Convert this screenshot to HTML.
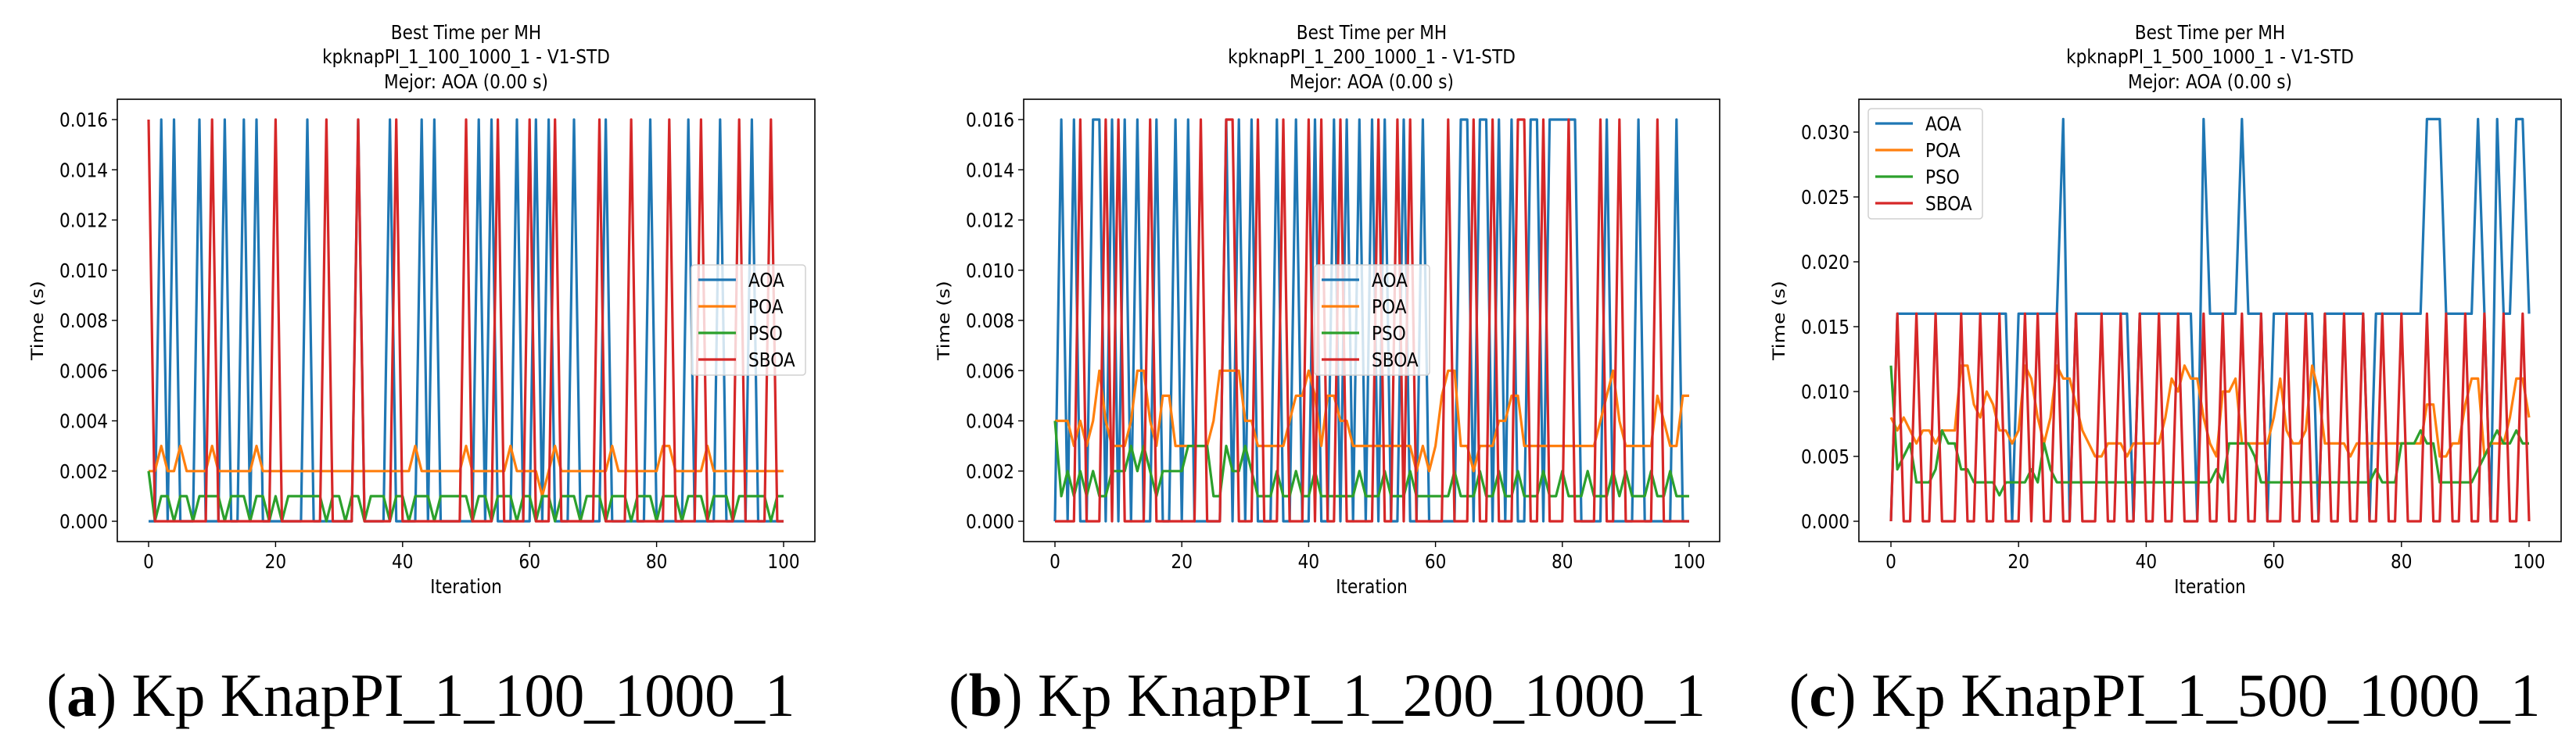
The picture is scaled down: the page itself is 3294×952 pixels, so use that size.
<!DOCTYPE html>
<html><head><meta charset="utf-8"><style>
html,body{margin:0;padding:0;background:#fff;}
svg{display:block;}
text{font-family:"DejaVu Sans","Liberation Sans",sans-serif;fill:#000;}
.cap{font-family:"Liberation Serif",serif;}
</style></head><body>
<svg id="fig" width="3294" height="952" viewBox="0 0 3294 952" xmlns="http://www.w3.org/2000/svg"></svg>
<script>
// values in milliseconds
const iterations = Array.from({length:101},(_,i)=>i);
const seriesNames = ["AOA","POA","PSO","SBOA"];
const yTicksA = [0,0.002,0.004,0.006,0.008,0.010,0.012,0.014,0.016];
const yTicksC = [0,0.005,0.010,0.015,0.020,0.025,0.030];
const xTicks = [0,20,40,60,80,100];

const aAOA = [0,0,16,0,16,0,0,0,16,0, 0,0,16,0,0,16,0,16,0,0, 0,0,0,0,0,16,0,0,0,0, 0,0,0,16,0,0,0,0,16,0, 0,0,0,16,0,16,0,0,0,0, 0,0,16,0,16,0,0,0,16,0, 0,16,0,16,0,0,0,16,0,0, 0,0,16,0,0,0,0,0,0,16, 0,0,0,0,0,16,0,0,0,0, 16,0,0,0,0,16,0,0,0,0, 0];
const aPOA = [2,2,3,2,2,3,2,2,2,2, 3,2,2,2,2,2,2,3,2,2, 2,2,2,2,2,2,2,2,2,2, 2,2,2,2,2,2,2,2,2,2, 2,2,3,2,2,2,2,2,2,2, 3,2,2,2,2,2,2,3,2,2, 2,2,1,2,3,2,2,2,2,2, 2,2,2,3,2,2,2,2,2,2, 2,3,3,2,2,2,2,2,3,2, 2,2,2,2,2,2,2,2,2,2, 2];
const aPSO = [2,0,1,1,0,1,1,0,1,1, 1,1,0,1,1,1,0,1,1,0, 1,0,1,1,1,1,1,1,0,1, 1,0,1,1,0,1,1,1,0,1, 1,0,1,1,1,0,1,1,1,1, 1,0,1,1,0,1,1,1,0,1, 1,0,1,1,0,1,1,1,0,1, 1,1,0,1,1,1,0,1,1,1, 0,1,1,1,0,1,1,1,0,1, 1,1,0,1,1,1,1,1,0,1, 1];
const aSBOA = [16,0,0,0,0,0,0,0,0,0, 16,0,0,0,0,0,0,0,0,0, 16,0,0,0,0,0,0,0,16,0, 0,0,0,16,0,0,0,0,0,16, 0,0,0,0,0,0,0,0,0,0, 16,0,0,0,0,16,0,0,0,0, 16,0,0,0,16,0,0,0,0,0, 0,16,0,0,0,0,16,0,0,0, 0,0,16,0,0,0,0,16,0,0, 0,0,0,16,0,0,0,0,16,0, 0];

const bAOA = [0,16,0,16,0,0,16,16,0,16, 0,16,0,16,0,0,16,0,0,16, 0,16,0,0,0,0,0,16,0,16, 0,16,0,0,0,16,0,0,16,0, 0,16,0,0,16,0,16,0,16,0, 16,0,16,0,0,16,0,0,16,0, 0,0,0,0,16,16,0,16,16,0, 16,0,16,0,0,16,16,0,16,16, 16,16,16,0,0,0,0,16,0,0, 0,0,16,0,0,0,0,0,16,0, 0];
const bPOA = [4,4,4,3,4,3,4,6,4,3, 3,3,4,6,6,4,3,5,5,3, 3,3,3,3,3,4,6,6,6,6, 4,4,3,3,3,3,3,4,5,5, 6,5,3,5,5,4,4,3,3,3, 3,3,3,3,3,3,3,2,3,2, 3,5,6,6,3,3,2,3,3,3, 4,4,5,5,3,3,3,3,3,3, 3,3,3,3,3,3,4,5,6,4, 3,3,3,3,3,5,4,3,3,5, 5];
const bPSO = [4,1,2,1,2,1,2,1,1,2, 2,2,3,2,3,2,1,2,2,2, 2,3,3,3,3,1,1,3,2,2, 3,2,1,1,1,2,1,1,2,1, 1,2,1,1,1,1,1,1,2,1, 1,1,2,1,1,1,2,1,1,1, 1,1,1,2,1,1,1,2,1,1, 2,1,1,2,1,1,1,2,1,1, 2,1,1,1,2,1,1,1,2,1, 2,1,1,1,2,1,1,2,1,1, 1];
const bSBOA = [0,0,0,0,16,0,0,0,16,0, 16,0,0,0,0,16,0,0,0,0, 0,0,0,16,0,0,0,16,16,0, 0,0,16,0,0,0,16,0,0,0, 16,0,16,0,0,16,0,0,0,0, 0,16,0,0,16,0,16,0,0,0, 0,0,16,0,0,0,16,0,0,16, 0,0,0,16,16,0,0,16,0,0, 0,16,0,0,0,0,16,0,0,16, 0,0,0,0,0,16,0,0,0,0, 0];

const cAOA = [0,16,16,16,16,16,16,16,16,16, 16,16,16,16,16,16,16,16,16,0, 16,16,16,16,16,16,16,31,0,16, 16,16,16,16,16,16,16,16,0,16, 16,16,16,16,16,16,16,16,0,31, 16,16,16,16,16,31,16,16,16,0, 16,16,16,16,16,16,16,0,16,16, 16,16,16,16,16,0,16,16,16,16, 16,16,16,16,31,31,31,16,16,16, 16,16,31,16,0,31,16,16,31,31, 16];
const cPOA = [8,7,8,7,6,7,7,6,7,7, 7,12,12,9,8,10,9,7,7,6, 7,12,11,8,6,8,12,11,11,9, 7,6,5,5,6,6,6,5,6,6, 6,6,6,8,11,10,12,11,11,8, 6,5,10,10,11,6,6,6,6,6, 8,11,7,6,6,7,12,10,6,6, 6,6,5,6,6,6,6,6,6,6, 6,6,6,6,9,9,5,5,6,6, 9,11,11,5,6,6,6,8,11,11, 8];
const cPSO = [12,4,5,6,3,3,3,4,7,6, 6,4,4,3,3,3,3,2,3,3, 3,3,4,3,6,4,3,3,3,3, 3,3,3,3,3,3,3,3,3,3, 3,3,3,3,3,3,3,3,3,3, 3,4,3,6,6,6,6,5,3,3, 3,3,3,3,3,3,3,3,3,3, 3,3,3,3,3,3,4,3,3,3, 6,6,6,7,6,6,3,3,3,3, 3,3,4,5,6,7,6,6,7,6, 6];
const cSBOA = [0,16,0,0,16,0,0,16,0,0, 0,16,0,0,16,0,0,16,0,0, 0,16,0,16,0,0,16,0,0,16, 0,0,0,16,0,0,16,0,0,16, 0,0,16,0,0,16,0,0,0,16, 0,0,16,0,0,16,0,0,16,0, 0,0,16,0,0,16,0,0,16,0, 0,16,0,0,16,0,0,16,0,0, 16,0,0,0,16,0,0,16,0,0, 16,0,0,16,0,0,16,0,0,16, 0];

const colors = ["#1f77b4","#ff7f0e","#2ca02c","#d62728"];
const NS = "http://www.w3.org/2000/svg";
const svg = document.getElementById("fig");
const SX = 0.866;

function el(tag, attrs, parent){
  const e = document.createElementNS(NS, tag);
  for (const k in attrs) e.setAttribute(k, attrs[k]);
  (parent||svg).appendChild(e);
  return e;
}
function txt(parent, x, y, s, size, anchor, rot){
  const t = el("text", {transform:`translate(${x},${y}) scale(${SX},1)` + (rot?" rotate(-90)":""), "font-size":size, "text-anchor":anchor||"middle"}, parent);
  t.textContent = s;
  return t;
}

const charts = [
  {id:"a", L:150, R:1042, x0:190, x100:1002, y0:667, yTop:153, yMax:0.016, yTicks:yTicksA, dec:3, ser:[aAOA,aPOA,aPSO,aSBOA], name:"kpknapPI_1_100_1000_1", leg:{x:884,y:339,w:146,h:141}, ylabX:46, cap:"a", capTail:" Kp KnapPI_1_100_1000_1", capX:538, capW:957},
  {id:"b", L:1309, R:2199, x0:1349, x100:2160, y0:667, yTop:153, yMax:0.016, yTicks:yTicksA, dec:3, ser:[bAOA,bPOA,bPSO,bSBOA], name:"kpknapPI_1_200_1000_1", leg:{x:1681,y:339,w:147,h:141}, ylabX:1205, cap:"b", capTail:" Kp KnapPI_1_200_1000_1", capX:1697, capW:968},
  {id:"c", L:2377, R:3275, x0:2418, x100:3234, y0:667, yTop:169, yMax:0.030, yTicks:yTicksC, dec:3, ser:[cAOA,cPOA,cPSO,cSBOA], name:"kpknapPI_1_500_1000_1", leg:{x:2389,y:139,w:146,h:141}, ylabX:2273, cap:"c", capTail:" Kp KnapPI_1_500_1000_1", capX:2768, capW:961}
];

charts.forEach(c=>{
  const g = el("g", {});
  
  
  const xs = v => c.x0 + (c.x100 - c.x0) * v / 100;
  const ys = v => c.y0 - (c.y0 - c.yTop) * v / c.yMax;
  const T = 127, B = 693;
  const cx = (c.L + c.R) / 2;
  const tg = el("g", {}, g);
  
  
  txt(tg, cx, 50, "Best Time per MH", 25);
  txt(tg, cx, 81, c.name + " - V1-STD", 25);
  txt(tg, cx, 113, "Mejor: AOA (0.00 s)", 25);
  c.ser.forEach((arr, si)=>{
    const pts = arr.map((v,i)=> xs(iterations[i]).toFixed(1) + "," + ys(v/1000).toFixed(1)).join(" ");
    const p = el("polyline", {points:pts, fill:"none", stroke:colors[si], "stroke-width":3.2, "stroke-linejoin":"round"}, g);
    
    
  });
  const fr = el("rect", {x:c.L, y:T, width:c.R-c.L, height:B-T, fill:"none", stroke:"#000", "stroke-width":1.6}, g);
  
  
  const yg = el("g", {}, g);
  
  
  c.yTicks.forEach(v=>{
    const y = ys(v);
    el("line", {x1:c.L-7, x2:c.L, y1:y, y2:y, stroke:"#000", "stroke-width":1.4}, yg);
    txt(yg, c.L-12, y+9, v.toFixed(c.dec), 25, "end");
  });
  const yl = txt(yg, c.ylabX + 9, (T+B)/2, "Time (s)", 25, "middle", true);
  
  
  const xg = el("g", {}, g);
  
  
  xTicks.forEach(v=>{
    const x = xs(v);
    el("line", {x1:x, x2:x, y1:B, y2:B+7, stroke:"#000", "stroke-width":1.4}, xg);
    txt(xg, x, 727, String(v), 25);
  });
  const xl = txt(xg, cx, 759, "Iteration", 25);
  
  
  const lg = el("g", {}, g);
  
  
  el("rect", {x:c.leg.x, y:c.leg.y, width:c.leg.w, height:c.leg.h, rx:4, fill:"rgba(255,255,255,0.8)", stroke:"#d0d0d0", "stroke-width":1.5}, lg);
  seriesNames.forEach((n,i)=>{
    const ey = c.leg.y + 19 + i*34;
    const e = el("g", {}, lg);
    
    
    el("line", {x1:c.leg.x+9, x2:c.leg.x+57, y1:ey, y2:ey, stroke:colors[i], "stroke-width":3.2}, e);
    txt(e, c.leg.x+73, ey+9, n, 25, "start");
  });
  const cp = el("text", {x:c.capX, y:916, "font-size":78, "text-anchor":"middle", class:"cap", textLength:c.capW, lengthAdjust:"spacingAndGlyphs"}, svg);
  
  
  const t1 = el("tspan", {}, cp); t1.textContent = "(";
  const t2 = el("tspan", {"font-weight":"bold"}, cp); t2.textContent = c.cap;
  const t3 = el("tspan", {}, cp); t3.textContent = ")" + c.capTail;
});
</script>
</body></html>
